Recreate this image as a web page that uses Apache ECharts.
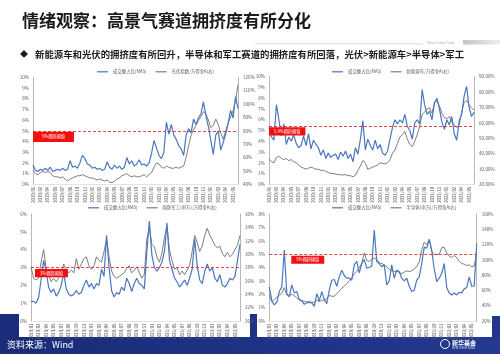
<!DOCTYPE html>
<html>
<head>
<meta charset="utf-8">
<script src="https://cdn.jsdelivr.net/npm/echarts@6/dist/echarts.min.js"></script>
<style>
html,body{margin:0;padding:0;background:#fff;}
#c{width:500px;height:354px;}
</style>
</head>
<body>
<div id="c"></div>
<script>
// Axis tick labels (every third point carries a label)
const monthLabels = ["2019/01","2019/02","2019/04","2019/05","2019/07","2019/08","2019/10","2019/11",
  "2020/01","2020/02","2020/04","2020/05","2020/07","2020/08","2020/10","2020/11",
  "2021/01","2021/02","2021/04","2021/05","2021/07","2021/08","2021/10","2021/11",
  "2022/01","2022/02","2022/04","2022/05"];

// 光伏: turnover share (MA5, %) and index relative to Wind All A (%)
const pvShare = [1.8,1.3,1.2,1.4,1.3,1.5,1.3,1.6,1.2,1.3,
  1.4,1.3,1.5,1.3,1.4,2.2,1.6,1.7,1.5,2.0,
  2.7,2.4,1.9,1.8,1.5,1.6,1.4,1.5,1.3,1.4,
  2.1,1.6,1.4,1.8,1.5,1.7,1.4,1.6,2.5,1.9,
  2.2,1.7,1.9,2.3,1.8,1.9,1.7,2.0,2.9,4.1,
  3.4,2.7,2.4,3.0,5.8,4.7,5.6,4.6,4.2,3.6,
  3.3,2.7,4.6,5.2,4.8,6.1,5.6,6.2,6.6,7.7,
  6.4,5.4,4.1,2.8,4.6,5.0,3.2,3.9,4.7,5.7,
  6.9,6.2,8.2,7.1];
const pvRel = [50.4,48,47.2,48.8,49.6,48.8,49.6,48.8,46.4,45.6,
  45.6,44.8,45.6,44,42.4,44,44.8,45.6,46.4,46.4,
  47.2,46.4,45.6,44.8,44.8,44,43.2,44,43.2,42.4,
  43.2,41.6,41.2,42.4,44,44.8,46.4,47.2,48,46.4,
  45.6,46.4,45.6,45.6,46.4,47.2,45.6,47.2,48.8,52.8,
  56,55.2,52.8,52,53.6,52.8,52,52,52.8,52,
  52.8,53.6,60,68.8,76.8,80.8,84,88,90.4,94.4,
  92.8,88,82.4,84,88.8,84.8,78.4,73.6,80,85.6,
  90.4,95.2,102.4,114.4];

// 新能源车
const evShare = [5.3,4.4,4.1,7.4,6.0,4.5,5.6,3.7,4.4,4.0,
  4.6,3.8,3.4,3.6,4.5,3.6,4.7,3.3,4.1,3.7,
  3.4,2.7,3.2,2.4,2.9,2.5,2.7,2.8,2.3,3.0,
  2.6,3.1,2.4,2.8,2.1,3.4,2.8,4.2,5.9,3.2,
  4.2,3.6,3.2,4.1,3.3,3.7,2.9,2.7,3.1,4.2,
  5.3,6.0,5.6,6.0,5.7,6.5,5.4,5.0,4.2,5.7,
  6.0,5.6,8.8,7.4,6.5,6.8,6.0,7.6,8.0,7.0,
  5.8,5.1,6.0,5.5,6.3,4.7,4.1,5.9,6.5,8.2,
  9.1,7.2,6.3,6.7];
const evRel = [36.45,34.7,34,37.5,38.2,36.8,36.1,36.8,35.4,36.1,
  34.7,34,32.6,31.2,30.5,29.8,30.5,31.2,30.5,29.8,
  29.8,29.1,29.1,28.4,27.7,27,27,26.65,26.3,26.3,
  25.95,26.3,25.6,25.6,24.9,25.95,29.1,31.9,35.4,34,
  29.8,30.5,31.2,31.9,32.6,34,33.65,33.3,34,36.1,
  40.3,42.4,46.6,50.8,52.2,54.3,49.4,45.9,44.5,48,
  52.2,57.8,65.5,66.9,69,69.7,66.2,73.2,73.9,71.1,
  66.2,63.4,62.7,64.1,60.6,58.5,57.1,58.5,66.9,73.2,
  74.6,71.8,69.7,68.3];

// 军工
const milShare = [1.1,1.1,1.0,1.3,2.3,3.4,2.8,1.9,1.6,1.8,
  1.4,1.6,2.0,2.7,1.8,1.5,1.4,1.5,1.7,1.5,
  1.6,2.0,2.3,1.9,2.1,1.8,2.1,2.0,2.9,2.5,
  4.8,3.0,1.7,1.35,1.6,1.5,1.9,1.7,2.4,2.1,
  1.65,2.1,2.4,2.1,2.0,1.8,3.9,5.6,3.7,3.0,
  2.8,3.0,3.3,3.9,5.5,3.4,2.9,2.4,2.2,1.9,
  2.1,2.3,2.0,2.4,2.9,4.6,3.1,2.3,2.1,2.8,
  3.2,2.8,3.0,2.4,2.2,2.6,2.0,1.9,2.1,2.4,
  2.3,2.5,3.4,4.3];
const milRel = [28.13,26.4,26.13,26.4,28.8,30.67,28,26.93,25.87,26.4,
  25.87,26.4,26.93,28.53,27.47,27.2,27.6,27.2,29.33,27.73,
  28.53,29.33,29.6,28.27,27.73,28.27,29.6,29.07,28.8,30.4,
  32.27,29.6,27.47,26.67,26.4,26.67,26.93,27.2,27.87,28.27,
  27.2,27.6,28.13,27.2,26.4,26.93,32.27,33.87,31.47,31.07,
  29.6,28.8,30.13,32.53,34.13,30.67,29.07,27.73,28,26.93,
  27.47,26.93,27.6,28.27,30.4,32.8,31.73,30.4,31.2,32.8,
  33.87,32.8,32.13,31.33,30.93,31.2,30.13,29.6,30.27,29.6,
  30,30.67,31.33,32.8];

// 半导体
const semiShare = [2.55,1.5,1.2,1.4,2.2,2.55,5.3,2.05,1.8,2.7,
  2.1,2.2,1.6,1.5,1.25,1.35,1.45,1.35,1.1,2.05,
  1.5,2.2,1.6,1.3,2.3,3.05,3.1,2.6,3.3,3.8,
  3.4,3.2,3.2,3.05,4.2,4.45,3.6,4.3,4.6,3.95,
  4.0,4.1,6.8,4.45,4.3,4.05,4.2,2.7,3.0,4.2,
  3.2,3.8,3.7,3.2,3.0,3.2,2.6,2.2,2.3,3.05,
  3.3,4.3,5.5,5.45,6.1,5.3,3.9,2.95,3.2,3.55,
  4.3,2.5,2.1,1.95,2.1,1.95,2.15,2.1,2.4,2.5,
  3.3,2.6,2.6,5.8];
const semiRel = [54.1,45.4,48,51.5,54.1,55.9,63.75,54.1,53.25,55,
  53.25,49.75,48,47.1,45.4,45.4,43.6,44.5,44.5,47.1,
  45.4,47.1,47.1,49.75,53.25,52.4,52.4,55.9,59.4,62.9,
  65.5,69,72.5,76.9,81.25,84.75,90,95.25,109.25,99.6,
  97.9,100.5,102.25,100.5,96.1,95.25,93.5,90.9,87.4,85.6,
  84.75,85.6,83,82.1,83.9,85.6,84.75,85.6,88.25,90.9,
  97,112.75,123.25,119.75,126.75,111,106.6,107.5,106.6,116.25,
  116.25,109.25,104.9,103.1,105.75,103.1,97.9,95.25,94.4,92.6,
  93.5,90.9,91.75,109.25];

// Crowding thresholds (left axis, %) and their tags
const thresholds = [5, 5.4, 3, 5];
const thresholdTags = ['5%拥挤阈值', '5.4%拥挤阈值', '3%拥挤阈值', '5%拥挤阈值'];
const shareName = '成交额占比(MA5)';
const relNames = ['光伏指数/万得全A(右)', '新能源车/万得全A(右)', '国防军工(申万)/万得全A(右)', '半导体(申万)/万得全A(右)'];

const FONT = '"Noto Sans CJK SC","Noto Sans",sans-serif';
const BLUE = '#4b77bf';
const GRAY = '#7d7d7d';
const AXIS_TXT = '#5a5a5a';

const panels = [
  {grid:{left:33, top:77.3, width:205, height:107}, share:pvShare, rel:pvRel,
   leftMax:10, rMin:40, rMax:120, rStep:10, rFmt:v=>v+'%', legend:{left:97, top:69.6}, tagDist:[0,1], tagPad:[3,9]},
  {grid:{left:269, top:76.7, width:205, height:107.6}, share:evShare, rel:evRel,
   leftMax:10, rMin:20, rMax:90, rStep:10, rFmt:v=>v.toFixed(2)+'%', legend:{left:332, top:69.6}, tagDist:[0,1], tagPad:[2,5]},
  {grid:{left:31, top:214, width:209, height:107}, share:milShare, rel:milRel,
   leftMax:6, rMin:20, rMax:36, rStep:2, rFmt:v=>v+'%', legend:{left:88, top:205.6}, tagDist:[4,1.5], tagPad:[2,5]},
  {grid:{left:269.3, top:214, width:207.4, height:107}, share:semiShare, rel:semiRel,
   leftMax:8, rMin:20, rMax:160, rStep:20, rFmt:v=>v+'%', legend:{left:332, top:205.6}, tagDist:[22,1.5], tagPad:[2,5]}
];

const idx = pvShare.map((_, i) => String(i));

const grid = [], xAxis = [], yAxis = [], series = [], legend = [];
panels.forEach((p, k) => {
  grid.push(Object.assign({containLabel:false}, p.grid));
  xAxis.push({
    type:'category', gridIndex:k, data:idx, boundaryGap:false,
    axisLine:{show:true, lineStyle:{color:'#d0d0d0', width:0.6}},
    axisTick:{show:false},
    axisLabel:{interval:2, rotate:90, fontSize:4.3, color:AXIS_TXT, margin:2.5, fontFamily:FONT,
      formatter:(v)=>monthLabels[Math.floor(Number(v)/3)] || ''}
  });
  yAxis.push({
    type:'value', gridIndex:k, min:0, max:p.leftMax, interval:1, position:'left',
    axisLine:{show:true, lineStyle:{color:'#a6a6a6', width:0.8}},
    axisTick:{show:false}, splitLine:{show:false},
    axisLabel:{fontSize:4.6, color:AXIS_TXT, margin:4, fontFamily:FONT, formatter:'{value}%'}
  });
  yAxis.push({
    type:'value', gridIndex:k, min:p.rMin, max:p.rMax, interval:p.rStep, position:'right', alignTicks:false,
    axisLine:{show:true, lineStyle:{color:'#a6a6a6', width:0.8}},
    axisTick:{show:false}, splitLine:{show:false},
    axisLabel:{fontSize:4.6, color:AXIS_TXT, margin:5, fontFamily:FONT, formatter:p.rFmt}
  });
  series.push({
    name:shareName, type:'line', xAxisIndex:k, yAxisIndex:2*k, data:p.share,
    symbol:'none', smooth:false, z:3,
    lineStyle:{color:BLUE, width:1.2}, itemStyle:{color:BLUE},
    markLine:{
      silent:true, symbol:'none',
      lineStyle:{color:'#d9352c', type:[3,2], width:0.9},
      data:[{yAxis:thresholds[k]}],
      label:{show:true, position:'insideStartBottom', formatter:thresholdTags[k],
        color:'#fff', backgroundColor:'#f40f0f', fontSize:4.2, fontFamily:FONT,
        padding:p.tagPad, distance:p.tagDist}
    }
  });
  series.push({
    name:relNames[k], type:'line', xAxisIndex:k, yAxisIndex:2*k+1, data:p.rel,
    symbol:'none', smooth:false, z:2,
    lineStyle:{color:GRAY, width:1}, itemStyle:{color:GRAY}
  });
  legend.push({
    left:p.legend.left, top:p.legend.top, orient:'horizontal', padding:0,
    data:[shareName, relNames[k]], icon:'rect', itemWidth:11, itemHeight:1.2, itemGap:9,
    textStyle:{fontSize:4.4, color:AXIS_TXT, fontFamily:FONT}, selectedMode:false
  });
});

const graphic = [
  // title block
  {type:'text', left:22, top:12, style:{text:'情绪观察：高景气赛道拥挤度有所分化', fontSize:17, fontWeight:'bold', fontFamily:FONT, fill:'#1b1b1b'}},
  {type:'line', shape:{x1:255, y1:43.8, x2:423, y2:43.8}, style:{stroke:'#d4d4d4', lineWidth:0.8}},
  {type:'text', left:427, top:40.5, style:{text:'New China Fund', fontSize:3.6, fontFamily:FONT, fill:'#a8a8a8'}},
  {type:'rect', shape:{x:463, y:40, width:37, height:4.5},
   style:{fill:new echarts.graphic.LinearGradient(0,0,1,0,[{offset:0,color:'#c4c4c4'},{offset:1,color:'#eeeeee'}])}},
  {type:'text', left:20, top:50, style:{text:'◆', fontSize:8, fontFamily:FONT, fill:'#1b1b1b'}},
  {type:'text', left:35, top:49.5, style:{text:'新能源车和光伏的拥挤度有所回升，半导体和军工赛道的拥挤度有所回落，光伏>新能源车>半导体>军工',
    fontSize:9.4, fontWeight:'bold', fontFamily:FONT, fill:'#1b1b1b'}},
  // footer band
  {type:'rect', z:-10, shape:{x:0, y:337, width:500, height:17},
   style:{fill:new echarts.graphic.LinearGradient(0,0,1,0,[{offset:0,color:'#1a2c78'},{offset:0.6,color:'#1f3488'},{offset:1,color:'#24398f'}])}},
  {type:'rect', z:-10, shape:{x:0, y:314, width:19, height:24}, style:{fill:'#1b2d7a'}},
  {type:'rect', z:-10, shape:{x:250, y:314, width:7, height:24}, style:{fill:'#1e3283'}},
  {type:'rect', z:-10, shape:{x:492, y:316, width:8, height:22}, style:{fill:'#22378c'}},
  {type:'text', left:7, top:340, style:{text:'资料来源：Wind', fontSize:9, fontFamily:FONT, fill:'#ffffff'}},
  {type:'circle', shape:{cx:445, cy:344, r:4.5}, style:{fill:'none', stroke:'#ffffff', lineWidth:1}},
  {type:'text', left:452, top:339.5, style:{text:'新华基金', fontSize:6, fontWeight:'bold', fontFamily:FONT, fill:'#ffffff'}},
  {type:'text', left:452, top:347, style:{text:'NEW CHINA FUND', fontSize:2.8, fontFamily:FONT, fill:'#dfe4f3'}}
];

const chart = echarts.init(document.getElementById('c'), null, {renderer:'canvas'});
chart.setOption({
  backgroundColor:'#ffffff',
  animation:false,
  grid, xAxis, yAxis, series, legend, graphic
});
</script>
</body>
</html>
